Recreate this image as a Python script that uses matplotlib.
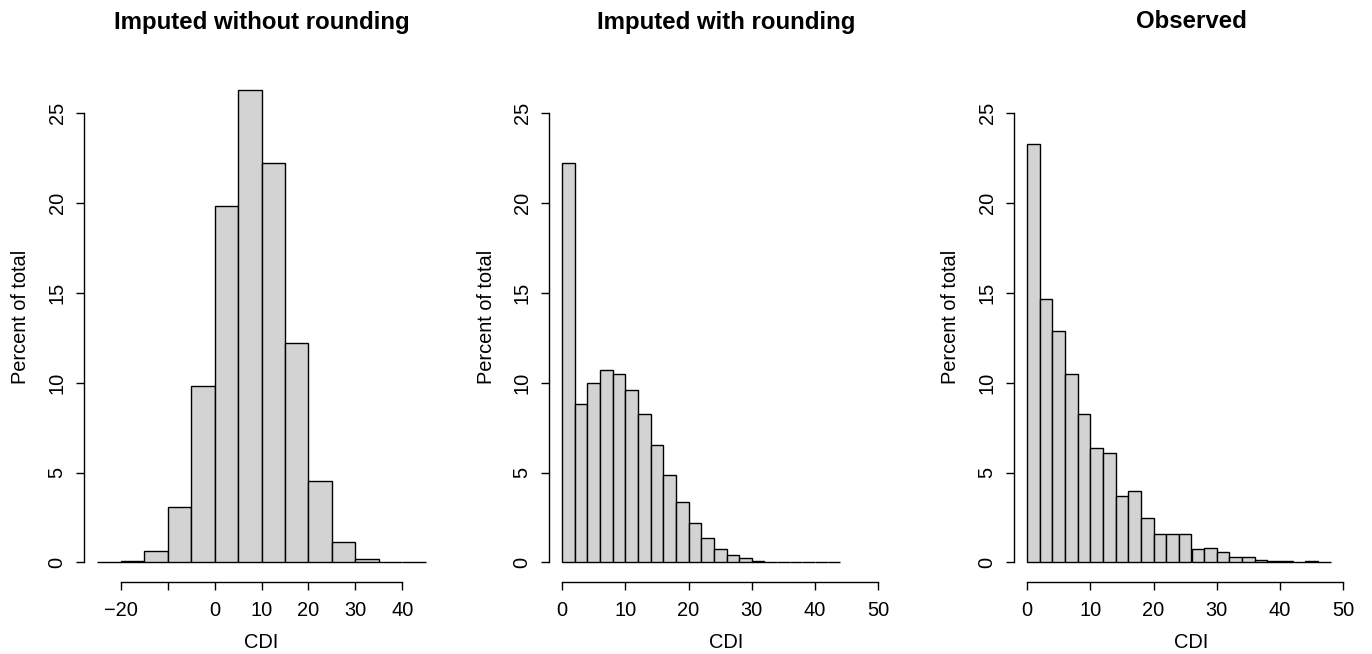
"""Three histograms of CDI: imputed without rounding, imputed with rounding, observed."""
import matplotlib
matplotlib.use('Agg')
import matplotlib.pyplot as plt

plt.rcParams['font.family'] = ['Liberation Sans', 'DejaVu Sans']

# Panel 1: bins of width 5 from -25 to 45
BREAKS_RAW = list(range(-25, 50, 5))
PCT_RAW = [0.02, 0.10, 0.61, 3.06, 9.82, 19.82, 26.26, 22.23, 12.22, 4.52, 1.14, 0.20, 0.02, 0.01]

# Panel 2: bins of width 2 from 0 to 44
BREAKS_ROUND = list(range(0, 46, 2))
PCT_ROUND = [22.21, 8.82, 10.00, 10.70, 10.51, 9.62, 8.27, 6.54, 4.87, 3.34, 2.22,
             1.34, 0.75, 0.41, 0.22, 0.10, 0.05, 0.03, 0.02, 0.02, 0.01, 0.005]

# Panel 3: bins of width 2 from 0 to 48
BREAKS_OBS = list(range(0, 50, 2))
PCT_OBS = [23.27, 14.65, 12.86, 10.51, 8.23, 6.36, 6.11, 3.67, 3.97, 2.47, 1.57, 1.57,
           1.57, 0.75, 0.79, 0.57, 0.31, 0.31, 0.16, 0.06, 0.08, 0.0, 0.06, 0.02]

TITLES = ['Imputed without rounding', 'Imputed with rounding', 'Observed']
XTICKS_RAW = [-20, -10, 0, 10, 20, 30, 40]
XLABELS_RAW = ['\u221220', '', '0', '10', '20', '30', '40']
XTICKS_PCT = [0, 10, 20, 30, 40, 50]
YTICKS = [0, 5, 10, 15, 20, 25]

W, H = 1372, 654
fig = plt.figure(figsize=(W / 100, H / 100), dpi=100)

panels = [
    (BREAKS_RAW, PCT_RAW, (-27.8, 47.8), XTICKS_RAW, XLABELS_RAW, 84),
    (BREAKS_ROUND, PCT_ROUND, (-2.08, 54.08), XTICKS_PCT, [str(t) for t in XTICKS_PCT], 549),
    (BREAKS_OBS, PCT_OBS, (-2.08, 54.08), XTICKS_PCT, [str(t) for t in XTICKS_PCT], 1014),
]

AX_W = 355
AX_TOP, AX_BOT = 52, 582
YLIM = (-1.09, 28.4)

for (breaks, pct, xlim, xt, xl, left), title in zip(panels, TITLES):
    ax = fig.add_axes([left / W, 1 - AX_BOT / H, AX_W / W, (AX_BOT - AX_TOP) / H])
    widths = [b - a for a, b in zip(breaks[:-1], breaks[1:])]
    ax.bar(breaks[:-1], pct, width=widths, align='edge', color='#D3D3D3',
           edgecolor='black', linewidth=1.0)
    ax.set_xlim(*xlim)
    ax.set_ylim(*YLIM)

    for s in ('top', 'right'):
        ax.spines[s].set_visible(False)
    ax.spines['left'].set_bounds(YTICKS[0], YTICKS[-1])
    ax.spines['bottom'].set_bounds(xt[0], xt[-1])
    for s in ('left', 'bottom'):
        ax.spines[s].set_linewidth(1.0)

    ax.set_xticks(xt)
    ax.set_xticklabels(xl)
    ax.set_yticks(YTICKS)
    ax.set_yticklabels([str(t) for t in YTICKS], rotation=90, va='center')
    ax.tick_params(axis='both', length=6, width=1.0, labelsize=14.4)
    ax.tick_params(axis='x', pad=7.5)
    ax.tick_params(axis='y', pad=6.5)

    cx = (left + AX_W / 2) / W
    fig.text(cx, 1 - 22 / H, title, ha='center', va='center',
             fontsize=17.3, fontweight='bold')
    fig.text(cx, 1 - 642 / H, 'CDI', ha='center', va='center', fontsize=14.4)
    fig.text((left - 63) / W, 1 - (AX_TOP + AX_BOT) / 2 / H, 'Percent of total',
             ha='center', va='center', rotation=90, fontsize=14.4)

fig.savefig('out.png', dpi=100)
